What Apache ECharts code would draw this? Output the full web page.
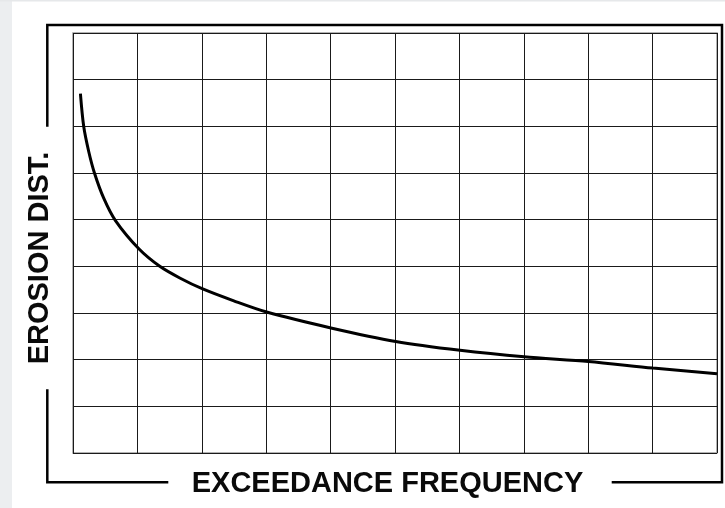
<!DOCTYPE html>
<html>
<head>
<meta charset="utf-8">
<script src="https://cdn.jsdelivr.net/npm/echarts@6/dist/echarts.min.js"></script>
<style>
html,body{margin:0;padding:0;background:#fff;}
#c{width:725px;height:508px;}
</style>
</head>
<body>
<div id="c"></div>
<script>
const xLabel = 'EXCEEDANCE FREQUENCY';
const yLabel = 'EROSION DIST.';
const curveX = [0.115, 0.166, 0.244, 0.333, 0.477, 0.659, 1.026, 1.347, 1.658, 2.005, 2.497, 3.006, 4.005, 5.011, 6.010, 7.005, 8.004, 9.005, 10.0];
const curveY = [7.70, 7.0, 6.46, 6.0, 5.46, 4.98, 4.37, 4.0, 3.75, 3.52, 3.26, 3.02, 2.68, 2.39, 2.20, 2.06, 1.96, 1.82, 1.70];

const chart = echarts.init(document.getElementById('c'), null, {renderer: 'canvas'});
const frame = {stroke: '#000', lineWidth: 2.5};
chart.setOption({
  animation: false,
  backgroundColor: '#ffffff',
  grid: {left: 73, top: 33, width: 644, height: 420, show: true, borderColor: '#9a9a9a', borderWidth: 1.5, backgroundColor: 'transparent'},
  xAxis: {type: 'value', min: 0, max: 10, interval: 1,
    axisLine: {show: false}, axisTick: {show: false}, axisLabel: {show: false},
    splitLine: {show: true, lineStyle: {color: '#1a1a1a', width: 1}}},
  yAxis: {type: 'value', min: 0, max: 9, interval: 1,
    axisLine: {show: false}, axisTick: {show: false}, axisLabel: {show: false},
    splitLine: {show: true, lineStyle: {color: '#1a1a1a', width: 1}}},
  series: [{
    type: 'line', smooth: 0.3, showSymbol: false, symbol: 'none',
    lineStyle: {color: '#000', width: 3},
    data: curveX.map((x, i) => [x, curveY[i]])
  }],
  graphic: [
    {type: 'rect', shape: {x: 0, y: 0, width: 12, height: 508}, style: {fill: '#eceef0'}, z: -10},
    {type: 'rect', shape: {x: 0, y: 0, width: 725, height: 1.5}, style: {fill: '#e6e8ea'}, z: -10},
    {type: 'polyline', shape: {points: [[47.3, 126.7], [47.3, 25], [722, 25], [722, 482.3], [611.7, 482.3]]}, style: Object.assign({fill: null}, frame)},
    {type: 'polyline', shape: {points: [[47.3, 389.3], [47.3, 482.3], [168.3, 482.3]]}, style: Object.assign({fill: null}, frame)},
    {type: 'text', x: 387.5, y: 484, style: {text: xLabel, font: 'bold 29px "Liberation Sans", Arial, sans-serif', fill: '#0a0a0a', textAlign: 'center', textVerticalAlign: 'middle'}},
    {type: 'text', x: 40, y: 258, rotation: Math.PI / 2, style: {text: yLabel, font: 'bold 29px "Liberation Sans", Arial, sans-serif', fill: '#0a0a0a', textAlign: 'center', textVerticalAlign: 'middle'}}
  ]
});
</script>
</body>
</html>
